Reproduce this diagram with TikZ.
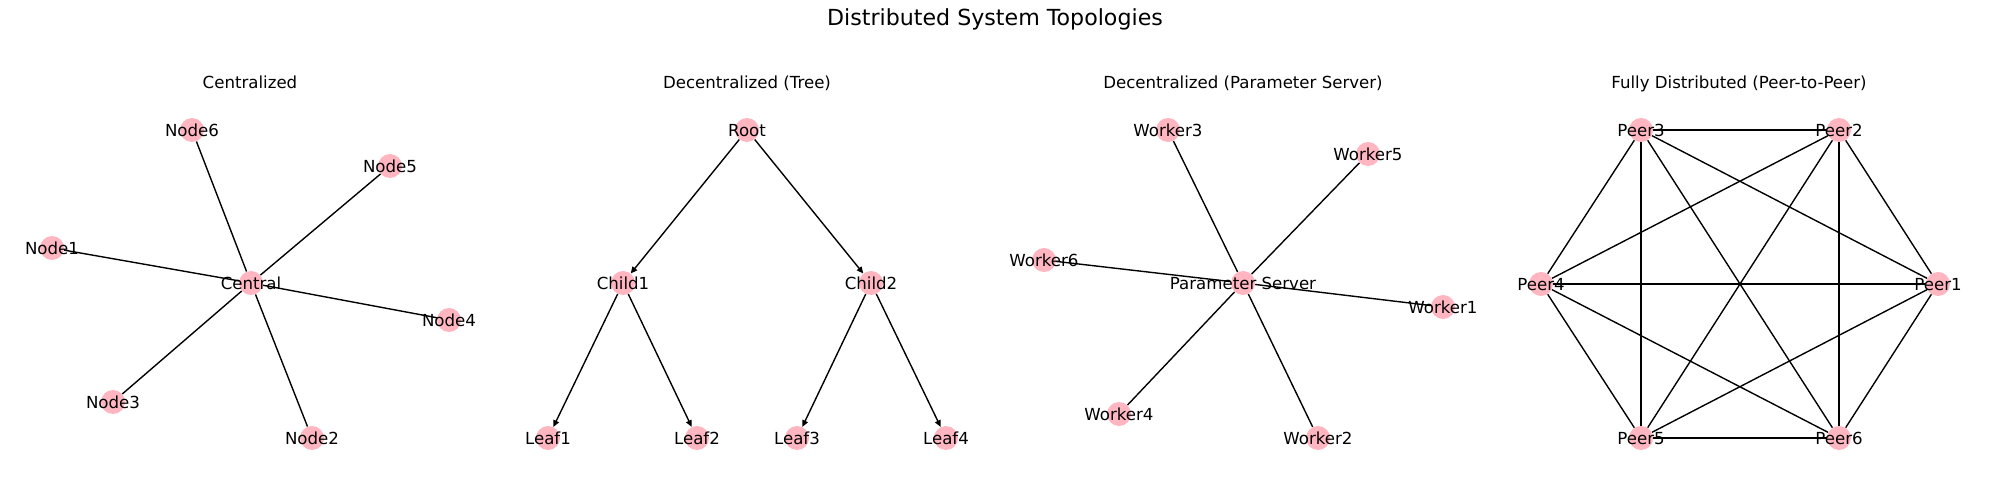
\documentclass[tikz,border=0pt]{standalone}
\usepackage{fontspec}
\setmainfont{DejaVu Sans}
\usetikzlibrary{arrows.meta}
\definecolor{lpink}{HTML}{FFB6C1}
\pgfdeclarelayer{background}
\pgfsetlayers{background,main}
\tikzset{
  vtx/.style={circle,fill=lpink,draw=none,minimum size=17.28bp,inner sep=0pt},
  lbl/.style={font=\fontsize{12}{14}\selectfont,inner sep=0pt,text height=8.8bp,text depth=0pt},
  ptitle/.style={font=\fontsize{12}{14}\selectfont,inner sep=0pt,anchor=base},
  mtitle/.style={font=\fontsize{16}{19}\selectfont,inner sep=0pt,anchor=base},
  edge/.style={line width=1bp,black},
  arr/.style={line width=1bp,black,-{Triangle[length=4.8bp,width=4.3bp]}}
}
\newcommand{\vx}[3]{\node[vtx,label={[lbl]center:#3}] (#1) at #2 {};}
\begin{document}
\begin{tikzpicture}[x=0.72bp,y=-0.72bp]
\useasboundingbox (0,0) rectangle (1990,480);
\node[mtitle] (mt) at (995,26) {Distributed System Topologies};
% Panel 1
\node[ptitle] (t1) at (250,89) {Centralized};
\vx{C}{(251,283)}{Central}
\vx{N1}{(52,248)}{Node1}
\vx{N2}{(312,438)}{Node2}
\vx{N3}{(113,402)}{Node3}
\vx{N4}{(449,320)}{Node4}
\vx{N5}{(390,166)}{Node5}
\vx{N6}{(192,130)}{Node6}
% Panel 2
\node[ptitle] (t2) at (747,89) {Decentralized (Tree)};
\vx{R}{(747,130)}{Root}
\vx{C1}{(623,283)}{Child1}
\vx{C2}{(871,283)}{Child2}
\vx{L1}{(548,438)}{Leaf1}
\vx{L2}{(697,438)}{Leaf2}
\vx{L3}{(797,438)}{Leaf3}
\vx{L4}{(946,438)}{Leaf4}
% Panel 3
\node[ptitle] (t3) at (1243,89) {Decentralized (Parameter Server)};
\vx{PS}{(1243,283)}{Parameter Server}
\vx{W1}{(1443,307)}{Worker1}
\vx{W2}{(1318,438)}{Worker2}
\vx{W3}{(1168,130)}{Worker3}
\vx{W4}{(1119,414)}{Worker4}
\vx{W5}{(1368,154)}{Worker5}
\vx{W6}{(1044,260)}{Worker6}
% Panel 4
\node[ptitle] (t4) at (1739,89) {Fully Distributed (Peer-to-Peer)};
\vx{P1}{(1938,284)}{Peer1}
\vx{P2}{(1839,130)}{Peer2}
\vx{P3}{(1641,130)}{Peer3}
\vx{P4}{(1541,284)}{Peer4}
\vx{P5}{(1641,438)}{Peer5}
\vx{P6}{(1839,438)}{Peer6}
\begin{pgfonlayer}{background}
\foreach \n in {N1,N2,N3,N4,N5,N6} \draw[edge] (C) -- (\n);
\foreach \n in {W1,W2,W3,W4,W5,W6} \draw[edge] (PS) -- (\n);
\foreach \a/\b in {P1/P2,P1/P3,P1/P4,P1/P5,P1/P6,P2/P3,P2/P4,P2/P5,P2/P6,P3/P4,P3/P5,P3/P6,P4/P5,P4/P6,P5/P6}
  \draw[edge] (\a) -- (\b);
\end{pgfonlayer}
\draw[arr] (R) -- (C1);
\draw[arr] (R) -- (C2);
\draw[arr] (C1) -- (L1);
\draw[arr] (C1) -- (L2);
\draw[arr] (C2) -- (L3);
\draw[arr] (C2) -- (L4);
\end{tikzpicture}
\end{document}
